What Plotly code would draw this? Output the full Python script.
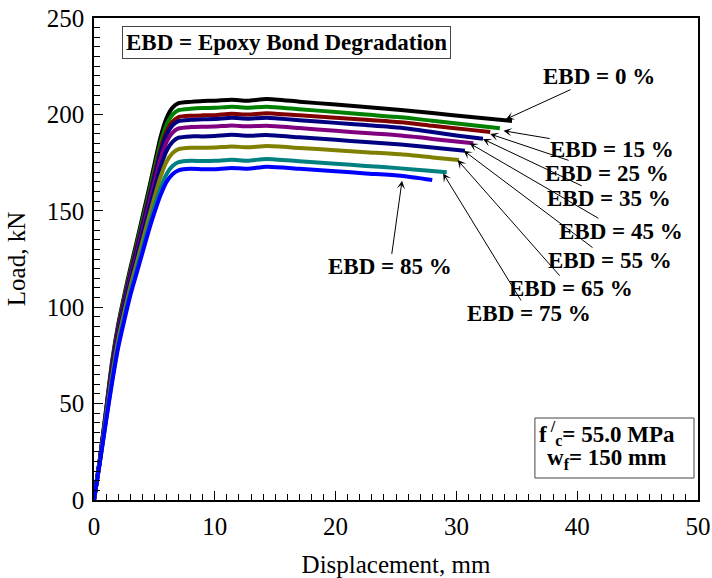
import plotly.graph_objects as go

# ---------------- data ----------------
ebd_labels = ["EBD = 0 %", "EBD = 15 %", "EBD = 25 %", "EBD = 35 %", "EBD = 45 %",
              "EBD = 55 %", "EBD = 65 %", "EBD = 75 %", "EBD = 85 %"]

rise_disp = [0, 0.5, 1, 1.5, 2, 2.5, 3, 3.5, 4, 4.5, 5, 5.5, 6, 6.5, 7, 8]
plateau_disp = [9, 10, 11.4, 12.7, 14.3, 17, 20, 22.5, 25.4]

disp_0 = rise_disp + plateau_disp + [28, 31, 34.6]
load_0 = [0, 22, 47, 72, 91, 106, 120, 133, 146.5, 160, 174, 188, 198, 203.5, 205.8, 206.5,
          207, 207.1, 207.6, 207.1, 208, 206.6, 205.1, 203.8, 202.3, 200.7, 198.8, 196.6]

disp_15 = rise_disp + plateau_disp + [28, 31, 33.6]
load_15 = [0, 21.8, 46.4, 70.9, 89.8, 104.8, 118.6, 131.4, 144.6, 157.8, 171.4, 184.9, 194.6, 199.9, 202.2, 202.9,
           203.3, 203.4, 204.0, 203.5, 204.0, 202.7, 201.2, 199.9, 198.5, 196.7, 194.6, 192.8]

disp_25 = rise_disp + plateau_disp + [28, 31, 32.8]
load_25 = [0, 21.6, 45.8, 69.7, 88.6, 103.4, 117.2, 129.8, 142.7, 155.6, 168.8, 181.8, 191.1, 196.3, 198.6, 199.3,
           199.5, 199.6, 200.3, 199.9, 200.6, 199.5, 198.2, 197.2, 195.9, 194.1, 192.1, 190.9]

disp_35 = rise_disp + plateau_disp + [28, 30, 32.2]
load_35 = [0, 21.5, 45.4, 69.1, 87.9, 102.6, 116.3, 128.8, 141.6, 154.4, 167.3, 180.0, 189.2, 194.3, 196.5, 197.2,
           197.5, 197.6, 198.2, 197.8, 198.3, 197.0, 195.6, 194.5, 193.1, 190.9, 189.1, 187.4]

disp_45 = rise_disp + plateau_disp + [28, 30, 31.4]
load_45 = [0, 21.2, 44.7, 67.9, 86.6, 101.2, 114.8, 127.0, 139.5, 152.1, 164.6, 176.7, 185.6, 190.5, 192.7, 193.4,
           193.6, 193.7, 194.3, 193.8, 194.1, 192.9, 191.5, 190.3, 189.0, 187.3, 185.9, 185.0]

disp_55 = rise_disp + plateau_disp + [28, 30.7]
load_55 = [0, 21.0, 43.9, 66.3, 84.9, 99.4, 112.8, 124.8, 137.0, 149.2, 161.1, 172.5, 181.0, 185.7, 187.9, 188.6,
           188.6, 188.8, 189.4, 188.9, 189.3, 188.1, 186.8, 185.7, 184.4, 182.8, 181.2]

disp_65 = rise_disp + plateau_disp + [28, 30.2]
load_65 = [0, 20.6, 42.9, 64.5, 82.8, 97.1, 110.4, 122.0, 133.8, 145.6, 156.9, 167.5, 175.4, 179.9, 182.0, 182.7,
           182.7, 182.8, 183.4, 182.9, 183.6, 182.6, 181.4, 180.4, 179.3, 177.7, 176.3]

disp_75 = rise_disp + plateau_disp + [27.5, 29.2]
load_75 = [0, 20.2, 41.7, 62.3, 80.4, 94.6, 107.7, 118.9, 130.2, 141.5, 152.0, 161.6, 169.0, 173.2, 175.2, 176.0,
           175.8, 175.9, 176.5, 176.0, 176.9, 175.7, 174.4, 173.3, 172.0, 170.9, 170.0]

disp_85 = rise_disp + plateau_disp + [28.0]
load_85 = [0, 20, 41, 61, 79, 93, 106, 117, 128, 139, 149, 158, 165, 169, 171, 171.8,
           171.5, 171.6, 172.2, 171.8, 172.9, 171.8, 170.5, 169.4, 168.2, 166.0]

series_disp = [disp_0, disp_15, disp_25, disp_35, disp_45, disp_55, disp_65, disp_75, disp_85]
series_load = [load_0, load_15, load_25, load_35, load_45, load_55, load_65, load_75, load_85]

x_ticks = [0, 10, 20, 30, 40, 50]
y_ticks = [0, 50, 100, 150, 200, 250]

# ---------------- styles / positions ----------------
colors = ["#000000", "#008000", "#800000", "#000080", "#800080",
          "#000080", "#808000", "#008080", "#0000FF"]

# arrow tip (x, y) and label centre (ax, ay) in data units
arrow_tip = [(34.1, 197.5), (33.9, 191.5), (32.8, 189.8), (32.2, 187.2), (31.1, 185.0),
             (30.6, 181.2), (30.1, 176.3), (28.9, 169.4), (25.5, 165.6)]
label_pos = [(41.8, 219.6), (42.9, 182.0), (42.5, 169.4), (42.65, 156.2), (43.6, 139.4),
             (42.7, 124.2), (39.5, 109.6), (36.0, 96.8), (24.5, 120.9)]

FONT = "Liberation Serif, Times New Roman, serif"

fig = go.Figure()
for d, l, c, name in zip(series_disp, series_load, colors, ebd_labels):
    fig.add_trace(go.Scatter(x=d, y=l, mode="lines", name=name,
                             line=dict(color=c, width=4, shape="spline", smoothing=0.6),
                             showlegend=False))

annotations = []
for (tx, ty), (lx, ly), txt in zip(arrow_tip, label_pos, ebd_labels):
    annotations.append(dict(x=tx, y=ty, ax=lx, ay=ly, xref="x", yref="y", axref="x", ayref="y",
                            text="<b>" + txt + "</b>", showarrow=True, arrowhead=3, arrowsize=1.4,
                            arrowwidth=1, arrowcolor="black",
                            font=dict(family=FONT, size=23, color="black"), borderpad=0))

annotations.append(dict(x=0.3195, y=0.950, xref="paper", yref="paper", showarrow=False,
                        xanchor="center", yanchor="middle",
                        text="<b>EBD = Epoxy Bond Degradation</b>",
                        font=dict(family=FONT, size=23, color="black"),
                        bordercolor="#444444", borderwidth=1, borderpad=3, bgcolor="white"))

# material info box: frame + two text lines
annotations.append(dict(x=0.8493, y=0.139, xref="paper", yref="paper", showarrow=False,
                        xanchor="center", yanchor="middle",
                        text="<b>f<sup> /</sup><sub>c</sub>= 55.0 MPa</b>",
                        font=dict(family=FONT, size=23, color="black")))
annotations.append(dict(x=0.8485, y=0.085, xref="paper", yref="paper", showarrow=False,
                        xanchor="center", yanchor="middle",
                        text="<b>w<sub>f</sub>= 150 mm</b>",
                        font=dict(family=FONT, size=23, color="black")))

shapes = [dict(type="rect", xref="paper", yref="paper", x0=0.730, x1=0.9934, y0=0.0456, y1=0.1701,
               line=dict(color="#444444", width=1), fillcolor="rgba(0,0,0,0)", layer="below")]

axis_common = dict(showgrid=False, zeroline=False, showline=True, mirror=True,
                   linecolor="black", linewidth=1.5, ticks="inside", ticklen=9,
                   tickwidth=1, tickcolor="black", automargin=False,
                   tickfont=dict(family=FONT, size=25, color="black"))

fig.update_layout(
    width=712, height=578,
    margin=dict(l=94, r=14, t=18, b=78),
    paper_bgcolor="white", plot_bgcolor="white",
    font=dict(family=FONT, color="black"),
    annotations=annotations,
    shapes=shapes,
    xaxis=dict(range=[0, 50], tickvals=x_ticks, ticklabelstandoff=3,
               minor=dict(dtick=1, ticklen=6, ticks="inside", tickcolor="black"),
               title=dict(text="Displacement, mm", font=dict(family=FONT, size=25), standoff=18),
               **axis_common),
    yaxis=dict(range=[0, 250], tickvals=y_ticks, ticklabelstandoff=3,
               minor=dict(dtick=5, ticklen=6, ticks="inside", tickcolor="black"),
               title=dict(text="Load, kN", font=dict(family=FONT, size=25), standoff=14),
               **axis_common),
)

fig.write_html("out.html")
